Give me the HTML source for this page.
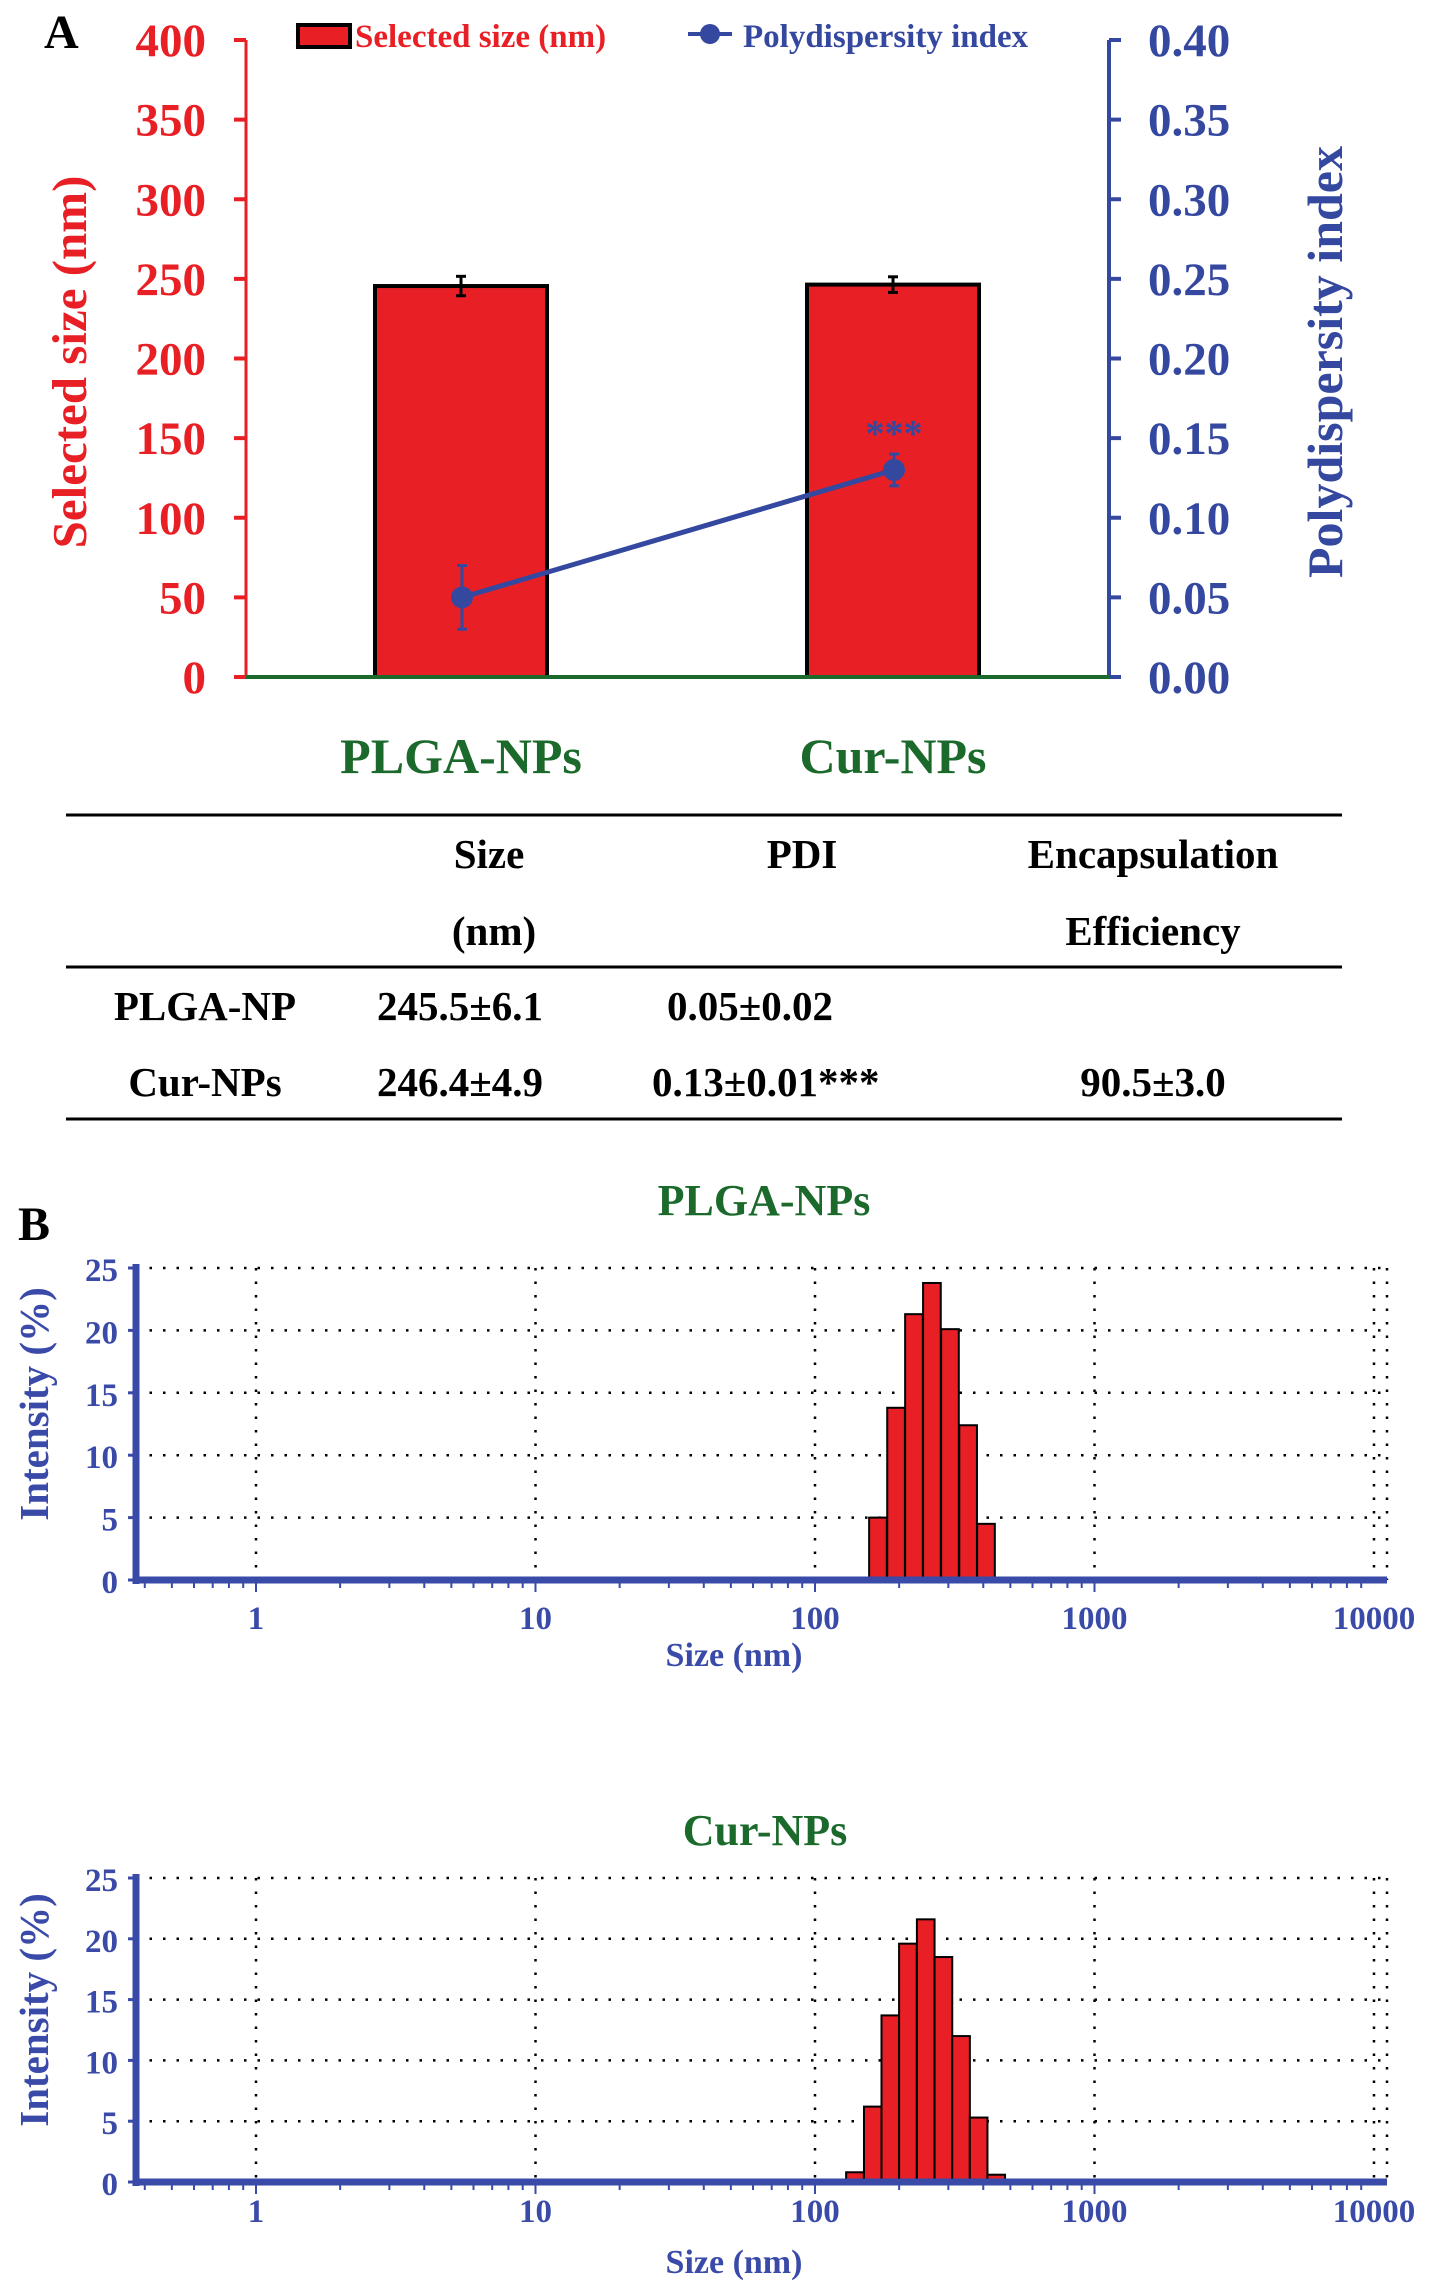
<!DOCTYPE html>
<html><head><meta charset="utf-8"><style>
html,body{margin:0;padding:0;background:#fff;}
svg{display:block;font-family:"Liberation Serif",serif;font-weight:bold;}
</style></head><body>
<svg id="fig" width="1441" height="2295" viewBox="0 0 1441 2295" xmlns="http://www.w3.org/2000/svg">
<text x="44" y="48" font-size="48" fill="#000">A</text>
<g id="pa"></g>
<text transform="translate(86,362) rotate(-90)" text-anchor="middle" font-size="49" fill="#e82025">Selected size (nm)</text>
<text transform="translate(1342,362) rotate(-90)" text-anchor="middle" font-size="50" fill="#3548a0">Polydispersity index</text>
<g>
<rect x="298" y="25" width="52" height="22" fill="#e82025" stroke="#000" stroke-width="4"/>
<text x="355" y="47" font-size="33" fill="#e82025">Selected size (nm)</text>
<line x1="688" y1="34" x2="732" y2="34" stroke="#3548a0" stroke-width="4"/>
<circle cx="710" cy="34" r="10" fill="#3548a0"/>
<text x="743" y="47" font-size="33" fill="#3548a0">Polydispersity index</text>
</g>
<g font-size="41" fill="#000" text-anchor="middle">
<line x1="66" y1="815" x2="1342" y2="815" stroke="#000" stroke-width="3"/>
<line x1="66" y1="967" x2="1342" y2="967" stroke="#000" stroke-width="3"/>
<line x1="66" y1="1119" x2="1342" y2="1119" stroke="#000" stroke-width="3"/>
<text x="489" y="868">Size</text>
<text x="494" y="945">(nm)</text>
<text x="802" y="868">PDI</text>
<text x="1153" y="868">Encapsulation</text>
<text x="1153" y="945">Efficiency</text>
<text x="205" y="1020">PLGA-NP</text>
<text x="460" y="1020">245.5±6.1</text>
<text x="750" y="1020">0.05±0.02</text>
<text x="205" y="1096">Cur-NPs</text>
<text x="460" y="1096">246.4±4.9</text>
<text x="652" y="1096" text-anchor="start">0.13±0.01***</text>
<text x="1153" y="1096">90.5±3.0</text>
</g>
<text x="18" y="1240" font-size="48" fill="#000">B</text>
<text x="764" y="1215" text-anchor="middle" font-size="44" fill="#1b6a2c">PLGA-NPs</text>
<text x="765" y="1845" text-anchor="middle" font-size="44" fill="#1b6a2c">Cur-NPs</text>
<g id="h1"></g>
<g id="h2"></g>
</svg>
<script>
// Panel A data
const categories = ["PLGA-NPs", "Cur-NPs"];
const sizeValues = [245.5, 246.4];
const sizeErrors = [6.1, 4.9];
const pdiValues = [0.05, 0.13];
const pdiErrors = [0.02, 0.01];
const leftTicks = [0, 50, 100, 150, 200, 250, 300, 350, 400];
const rightTicks = ["0.00","0.05","0.10","0.15","0.20","0.25","0.30","0.35","0.40"];
// Panel B data
const plgaSizes = [168, 195, 226, 262, 304, 353, 409];
const plgaIntensity = [5.0, 13.8, 21.3, 23.8, 20.1, 12.4, 4.5];
const curSizes = [139, 161, 186, 215, 249, 288, 333, 385, 445];
const curIntensity = [0.8, 6.2, 13.7, 19.6, 21.6, 18.5, 12.0, 5.3, 0.6];
const intensityTicks = [0, 5, 10, 15, 20, 25];
const sizeTicks = [1, 10, 100, 1000, 10000];

const NS = "http://www.w3.org/2000/svg";
function mk(parent, tag, attrs, txt) {
  const e = document.createElementNS(NS, tag);
  for (const k in attrs) e.setAttribute(k, attrs[k]);
  if (txt !== undefined) e.textContent = txt;
  parent.appendChild(e);
  return e;
}
// Panel A
const pa = document.getElementById('pa');
const AX0 = 246, AX1 = 1109, AY0 = 677, AY1 = 40;
const yL = v => AY0 - (v / 400) * (AY0 - AY1);
const yR = v => AY0 - (v / 0.4) * (AY0 - AY1);
const catX = [461, 893];
const RED = "#e82025", BLUE = "#3548a0";
mk(pa, 'line', {x1: AX0, y1: AY1, x2: AX0, y2: AY0, stroke: RED, 'stroke-width': 3});
mk(pa, 'line', {x1: AX1, y1: AY1, x2: AX1, y2: AY0, stroke: BLUE, 'stroke-width': 4});
leftTicks.forEach((t) => {
  const y = yL(t);
  mk(pa, 'line', {x1: AX0 - 12, y1: y, x2: AX0, y2: y, stroke: RED, 'stroke-width': 4});
  const lb = mk(pa, 'text', {x: 206, y: y + 16, 'text-anchor': 'end', 'font-size': 47, fill: RED}, String(t));
  
  
});
rightTicks.forEach((t) => {
  const y = yR(parseFloat(t));
  mk(pa, 'line', {x1: AX1, y1: y, x2: AX1 + 12, y2: y, stroke: BLUE, 'stroke-width': 4});
  const lb = mk(pa, 'text', {x: 1148, y: y + 16, 'font-size': 47, fill: BLUE}, t);
  
  
});
sizeValues.forEach((v, i) => {
  const bw = 172;
  const r = mk(pa, 'rect', {x: catX[i] - bw / 2, y: yL(v), width: bw, height: AY0 - yL(v), fill: RED, stroke: '#000', 'stroke-width': 4});
  
  
  const e = sizeErrors[i];
  mk(pa, 'line', {x1: catX[i], y1: yL(v + e), x2: catX[i], y2: yL(v - e), stroke: '#000', 'stroke-width': 3});
  mk(pa, 'line', {x1: catX[i] - 5, y1: yL(v + e), x2: catX[i] + 5, y2: yL(v + e), stroke: '#000', 'stroke-width': 3});
  mk(pa, 'line', {x1: catX[i] - 5, y1: yL(v - e), x2: catX[i] + 5, y2: yL(v - e), stroke: '#000', 'stroke-width': 3});
  const c = mk(pa, 'text', {x: catX[i], y: 773, 'text-anchor': 'middle', 'font-size': 50, fill: '#1b6a2c'}, categories[i]);
  
  
});
mk(pa, 'line', {x1: AX0, y1: AY0, x2: AX1, y2: AY0, stroke: '#1b6a2c', 'stroke-width': 4});
const pdiPts = pdiValues.map((v, i) => [catX[i] + 1, yR(v)]);
const pl = mk(pa, 'polyline', {points: pdiPts.map(p => p.join(',')).join(' '), fill: 'none', stroke: BLUE, 'stroke-width': 5});


pdiValues.forEach((v, i) => {
  const x = pdiPts[i][0], e = pdiErrors[i];
  mk(pa, 'line', {x1: x, y1: yR(v + e), x2: x, y2: yR(v - e), stroke: BLUE, 'stroke-width': 3});
  mk(pa, 'line', {x1: x - 5, y1: yR(v + e), x2: x + 5, y2: yR(v + e), stroke: BLUE, 'stroke-width': 3});
  mk(pa, 'line', {x1: x - 5, y1: yR(v - e), x2: x + 5, y2: yR(v - e), stroke: BLUE, 'stroke-width': 3});
  const c = mk(pa, 'circle', {cx: x, cy: yR(v), r: 11, fill: BLUE});
  
  
});
const st = mk(pa, 'text', {x: pdiPts[1][0], y: yR(pdiValues[1] + pdiErrors[1]) - 8, 'text-anchor': 'middle', 'font-size': 38, fill: BLUE}, '***');



// Panel B
function hist(id, sizes, vals, y0, y25, labelY, titleY, ytitleY) {
  const g = document.getElementById(id);
  const X0 = 136, X1 = 1387;
  const xs = s => 815 + (Math.log10(s) - 2) * 279.5;
  const ys = v => y0 - (v / 25) * (y0 - y25);
  const BL = "#3a4aa8";
  intensityTicks.forEach(t => {
    if (t > 0) mk(g, 'line', {x1: X0, y1: ys(t), x2: X1, y2: ys(t), stroke: '#000', 'stroke-width': 2.5, 'stroke-dasharray': '2.5 11'});
    const lb = mk(g, 'text', {x: 118, y: ys(t) + 13, 'text-anchor': 'end', 'font-size': 33, fill: BL}, String(t));
    
    
    mk(g, 'line', {x1: X0 - 8, y1: ys(t), x2: X0, y2: ys(t), stroke: BL, 'stroke-width': 3});
  });
  sizeTicks.forEach(t => {
    mk(g, 'line', {x1: xs(t), y1: y25, x2: xs(t), y2: y0, stroke: '#000', 'stroke-width': 2.5, 'stroke-dasharray': '2.5 11'});
    const lb = mk(g, 'text', {x: xs(t), y: labelY, 'text-anchor': 'middle', 'font-size': 33, fill: BL}, String(t));
    
    
  });
  mk(g, 'line', {x1: X1, y1: y25, x2: X1, y2: y0, stroke: '#000', 'stroke-width': 2.5, 'stroke-dasharray': '2.5 11'});
  const hw = 0.0316;
  sizes.forEach((s, i) => {
    const l = Math.log10(s);
    const xa = 815 + (l - hw - 2) * 279.5, xb = 815 + (l + hw - 2) * 279.5;
    const r = mk(g, 'rect', {x: xa, y: ys(vals[i]), width: xb - xa, height: y0 - ys(vals[i]), fill: '#e82025', stroke: '#000', 'stroke-width': 2});
    
    
  });
  mk(g, 'line', {x1: X0, y1: y25 - 4, x2: X0, y2: y0 + 4, stroke: BL, 'stroke-width': 7});
  mk(g, 'line', {x1: X0, y1: y0, x2: X1, y2: y0, stroke: BL, 'stroke-width': 7});
  for (let d = -1; d < 4; d++) for (let m = 1; m < 10; m++) {
    const x = xs(m * Math.pow(10, d));
    if (x < X0 || x > X1) continue;
    mk(g, 'line', {x1: x, y1: y0, x2: x, y2: y0 + (m === 1 ? 12 : 8), stroke: BL, 'stroke-width': 2});
  }
  const xt = mk(g, 'text', {x: 734, y: titleY, 'text-anchor': 'middle', 'font-size': 34, fill: BL}, 'Size (nm)');
  
  
  const yt = mk(g, 'text', {transform: 'translate(48,' + ytitleY + ') rotate(-90)', 'text-anchor': 'middle', 'font-size': 41, fill: BL}, 'Intensity (%)');
  
  
}
hist('h1', plgaSizes, plgaIntensity, 1580, 1268, 1629, 1666, 1404);
hist('h2', curSizes, curIntensity, 2182, 1878, 2222, 2273, 2010);
</script>
</body></html>
